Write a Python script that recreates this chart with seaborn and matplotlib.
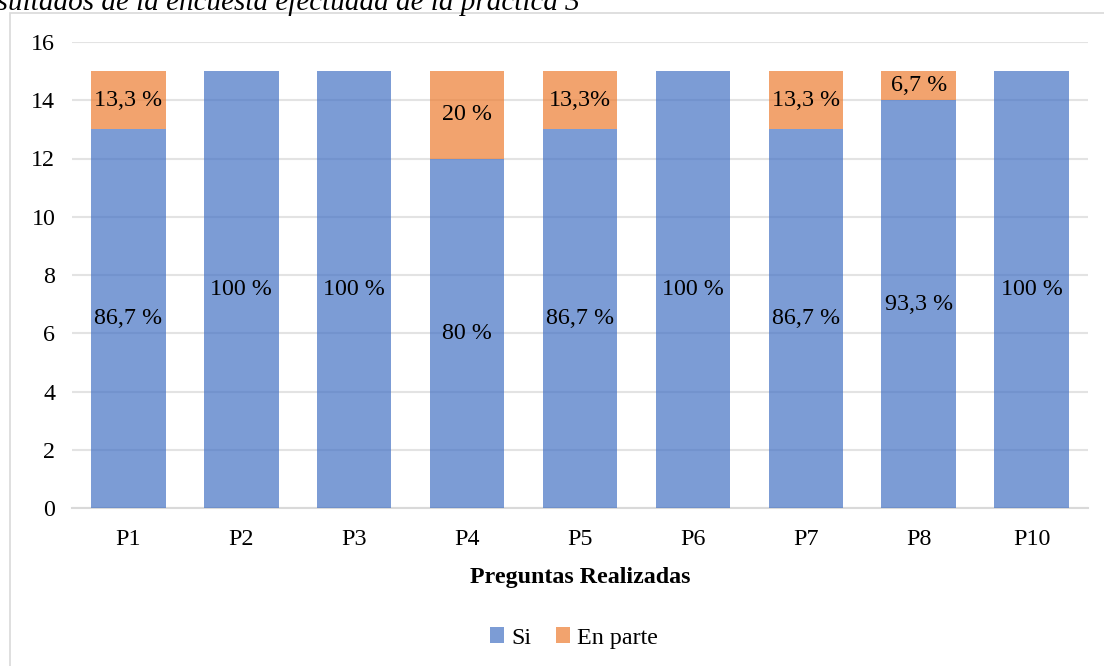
import matplotlib
matplotlib.use("Agg")
import matplotlib.pyplot as plt
import matplotlib.patches as mpatches
import seaborn as sns

# Survey results per question
preguntas = ["P1", "P2", "P3", "P4", "P5", "P6", "P7", "P8", "P10"]
si = [13, 15, 15, 12, 13, 15, 13, 14, 15]
en_parte = [2, 0, 0, 3, 2, 0, 2, 1, 0]
etiquetas_si = ["86,7 %", "100 %", "100 %", "80 %", "86,7 %", "100 %", "86,7 %", "93,3 %", "100 %"]
etiquetas_parte = ["13,3 %", "", "", "20 %", "13,3%", "", "13,3 %", "6,7 %", ""]
y_ticks = [0, 2, 4, 6, 8, 10, 12, 14, 16]

sns.set_theme(style="white")
plt.rcParams["font.family"] = ["Liberation Serif", "DejaVu Serif"]
plt.rcParams["text.color"] = "black"
plt.rcParams["axes.labelcolor"] = "black"

AZUL = "#4472C4"
NARANJA = "#ED7D31"
ALPHA = 0.7
FS = 17.3

fig = plt.figure(figsize=(11.04, 6.66), dpi=100)
ax = fig.add_axes([72 / 1104, 1 - 508 / 666, (1088 - 72) / 1104, (508 - 42) / 666])

# Outer frame of the chart area
fig.patches.append(mpatches.Rectangle((10 / 1104, -0.1), 1.2, 1 - 13 / 666 + 0.1,
                                      transform=fig.transFigure, fill=False,
                                      edgecolor="#D9D9D9", linewidth=1.2, zorder=0))

fig.text(580 / 1104, 1 - 10 / 666, "Resultados de la encuesta efectuada de la práctica 3",
         ha="right", va="baseline", fontsize=21, style="italic", color="black")

sns.barplot(x=preguntas, y=si, color=AZUL, saturation=1, alpha=ALPHA,
            width=0.66, linewidth=0, ax=ax, label="Si", zorder=3)
sns.barplot(x=preguntas, y=en_parte, bottom=si, color=NARANJA, saturation=1, alpha=ALPHA,
            width=0.66, linewidth=0, ax=ax, label="En parte", zorder=3)

ax.bar_label(ax.containers[0], labels=etiquetas_si, label_type="center",
             fontsize=FS, color="black", zorder=5)
ax.bar_label(ax.containers[1], labels=etiquetas_parte, label_type="center",
             fontsize=FS, color="black", zorder=5)

ax.set_ylim(0, 16)
ax.set_xlim(-0.5, len(preguntas) - 0.5)
ax.set_yticks(y_ticks)
ax.yaxis.grid(True, color="#E3E3E3", linewidth=1.5, zorder=0)
ax.set_axisbelow(True)
for side in ["top", "right", "left"]:
    ax.spines[side].set_visible(False)
ax.spines["bottom"].set_color("#D9D9D9")
ax.spines["bottom"].set_linewidth(1.5)
ax.tick_params(axis="both", length=0, labelsize=FS, colors="black")
ax.tick_params(axis="y", pad=12)
ax.tick_params(axis="x", pad=15)
ax.set_xlabel("Preguntas Realizadas", fontsize=FS, fontweight="bold", labelpad=12)
ax.set_ylabel("")

ax.legend(loc="center", bbox_to_anchor=(0.52, 1 - 638 / 666), bbox_transform=fig.transFigure,
          ncol=2, frameon=False, fontsize=FS, handlelength=0.6, handleheight=0.6,
          handletextpad=0.3, columnspacing=1.0)

fig.savefig("out.png", dpi=100)
